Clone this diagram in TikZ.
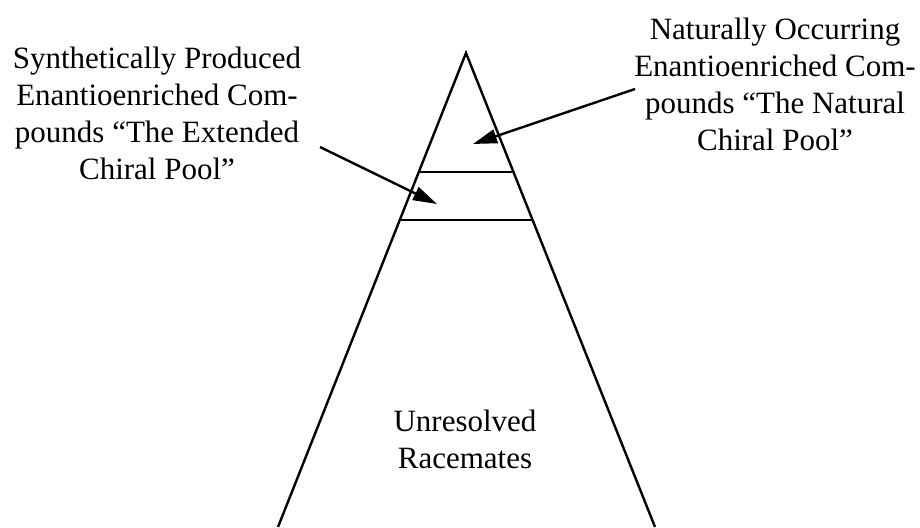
\documentclass[tikz,border=0pt]{standalone}
\usepackage{fontspec}
\setmainfont{Liberation Serif}
\usetikzlibrary{arrows.meta}
\tikzset{poolline/.style={line width=2.4pt},
  pooltext/.style={align=center,font=\fontsize{31}{37}\selectfont,inner sep=0pt},
  poolarrow/.style={poolline,-{Triangle[length=24pt,width=14pt]}}}
\begin{document}
\begin{tikzpicture}[x=1pt,y=-1pt]
\useasboundingbox (0,0) rectangle (920,527);
% pyramid
\coordinate (apex) at (466,53);
\coordinate (bl) at (278,527); \coordinate (br) at (655,527);
\draw[poolline] (bl)--(apex)--(br);
\draw[poolline] (419,172)--(514,172);
\draw[poolline] (400,220)--(533,220);
% labels
\node[pooltext] (synth) at (157,113) {Synthetically Produced\\Enantioenriched Com-\\pounds “The Extended\\Chiral Pool”};
\node[pooltext] (natural) at (775,84) {Naturally Occurring\\Enantioenriched Com-\\pounds “The Natural\\Chiral Pool”};
\node[pooltext] (racemate) at (465,439) {Unresolved\\Racemates};
% pointers
\coordinate (s0) at (320,147); \coordinate (s1) at (437,204);
\coordinate (n0) at (635,89); \coordinate (n1) at (473,144);
\draw[poolarrow] (s0)--(s1);
\draw[poolarrow] (n0)--(n1);
\end{tikzpicture}
\end{document}
